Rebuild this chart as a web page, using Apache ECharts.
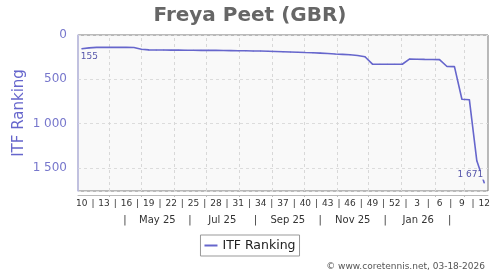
<!DOCTYPE html>
<html><head><meta charset="utf-8">
<script src="https://cdn.jsdelivr.net/npm/echarts@6/dist/echarts.min.js"></script>
<style>html,body{margin:0;padding:0;background:#fff}#c{width:500px;height:270px}</style>
</head><body><div id="c"></div>
<script>
// ---- data ----
const weekLabels = ['10','11','12','13','14','15','16','17','18','19','20','21','22','23','24','25','26','27','28','29','30','31','32','33','34','35','36','37','38','39','40','41','42','43','44','45','46','47','48','49','50','51','52','1','2','3','4','5','6','7','8','9','10','11','12'];
const ranks = [155,145,140,140,140,140,140,141,160,168,170,170,171,171,172,172,173,173,174,175,176,177,178,180,181,183,186,189,192,195,198,200,204,208,215,219,223,231,245,329,330,330,330,330,270,273,275,276,278,355,357,725,730,1420,1671];
const monthStarts = ['2025-04-01','2025-05-01','2025-06-01','2025-07-01','2025-08-01','2025-09-01','2025-10-01','2025-11-01','2025-12-01','2026-01-01','2026-02-01','2026-03-01','2026-04-01'];
const monthLabels = ['May 25','Jul 25','Sep 25','Nov 25','Jan 26'];
const yTicks = [0,500,1000,1500];
const firstWeekStart = '2025-03-03';
const lastWeekEnd = '2026-03-23';
const title = 'Freya Peet (GBR)';
const seriesName = 'ITF Ranking';
const credit = '\u00a9 www.coretennis.net, 03-18-2026';

// ---- helpers ----
const DAY = 86400000;
const t0 = Date.parse(firstWeekStart + 'T00:00:00Z');
const dayOf = s => (Date.parse(s + 'T00:00:00Z') - t0) / DAY;
const xMax = dayOf(lastWeekEnd);
const ptX = i => 3.5 + 7 * i;
const key = v => Math.round(v * 10);

const weekMap = new Map();
const weekVals = [];
for (let i = 0; i < weekLabels.length; i += 3) {
  weekVals.push(ptX(i)); weekMap.set(key(ptX(i)), weekLabels[i]);
  if (i + 3 < weekLabels.length) { const s = ptX(i) + 10.5; weekVals.push(s); weekMap.set(key(s), '|'); }
}
const mDays = monthStarts.map(dayOf);
const monthTicks = mDays.filter(d => d > 0 && d < xMax);
const monthMap = new Map();
const monthVals = [];
for (let m = 0; m < mDays.length - 1; m++) {
  const mid = (mDays[m] + mDays[m + 1]) / 2;
  if (m % 2 === 0) { monthVals.push(mid); monthMap.set(key(mid), '|'); }
  else { const lbl = monthLabels[(m - 1) / 2]; if (lbl) { monthVals.push(mid); monthMap.set(key(mid), lbl); } }
}

const seriesData = ranks.map((r, i) => {
  const item = { value: [ptX(i), r] };
  if (i === 0) item.label = { show: true, position: 'bottom', align: 'left', distance: 3, offset: [-1, 0] };
  if (i === ranks.length - 1) item.label = { show: true, position: 'top', align: 'right', distance: 3, backgroundColor: '#f9f9f9', padding: [0, 1, 0, 0] };
  return item;
});

const FONT = 'DejaVu Sans';
const lineColor = '#6666cc';

const chart = echarts.init(document.getElementById('c'), null, { renderer: 'canvas' });
chart.setOption({
  animation: false,
  textStyle: { fontFamily: FONT },
  title: [
    { text: title, left: 'center', top: 1, textStyle: { fontFamily: FONT, fontSize: 20, fontWeight: 'bold', color: '#666' } },
    { text: credit, right: 10, top: 257, textStyle: { fontFamily: FONT, fontSize: 9, fontWeight: 'normal', color: '#555' } }
  ],
  legend: {
    data: [{ name: seriesName, icon: 'rect', itemStyle: { color: lineColor } }],
    left: 'center', top: 235, itemWidth: 13, itemHeight: 2,
    borderColor: '#999', borderWidth: 1, padding: [4, 4, 4, 4], backgroundColor: '#fff', borderRadius: 0,
    textStyle: { fontFamily: FONT, fontSize: 12.5, color: '#222' }
  },
  grid: { left: 78, right: 12, top: 35, bottom: 79, show: true, borderColor: '#777', borderWidth: 1, backgroundColor: '#f9f9f9', containLabel: false },
  xAxis: [
    { type: 'value', min: 0, max: xMax, axisLine: { show: false }, axisTick: { show: false }, axisLabel: { show: false }, splitLine: { show: false } },
    { type: 'value', min: 0, max: xMax, position: 'bottom', offset: 0,
      axisLine: { show: false }, axisLabel: { show: false }, splitLine: { show: false },
      axisTick: { show: true, inside: true, length: 156, customValues: monthTicks, lineStyle: { color: '#d8d8d8', type: [3, 3] } } },
    { type: 'value', min: 0, max: xMax, position: 'bottom', offset: 4,
      axisLine: { show: true, lineStyle: { color: '#bbb', width: 1 } }, splitLine: { show: false },
      axisTick: { show: true, length: 2, customValues: monthTicks, lineStyle: { color: '#bbb' } },
      axisLabel: { show: true, customValues: weekVals, margin: 4, fontSize: 9, color: '#333', fontFamily: FONT,
        formatter: v => weekMap.get(key(v)) || '' } },
    { type: 'value', min: 0, max: xMax, position: 'bottom', offset: 4,
      axisLine: { show: false }, axisTick: { show: false }, splitLine: { show: false },
      axisLabel: { show: true, customValues: monthVals, margin: 20, fontSize: 10, color: '#333', fontFamily: FONT,
        formatter: v => monthMap.get(key(v)) || '' } }
  ],
  yAxis: {
    type: 'value', inverse: true, min: 0, max: 1760, interval: 500, offset: 5,
    name: seriesName, nameLocation: 'middle', nameRotate: 90, nameGap: 46, nameMoveOverlap: false,
    nameTextStyle: { fontFamily: FONT, fontSize: 15, color: lineColor },
    axisLine: { show: true, lineStyle: { color: '#c4c4ec', width: 1.5 } },
    axisTick: { show: false },
    axisLabel: { margin: 6, fontSize: 12, color: '#7777cc', fontFamily: FONT,
      customValues: yTicks,
      formatter: v => String(v).replace(/\B(?=(\d{3})+(?!\d))/g, ' ') },
    splitLine: { show: true, lineStyle: { color: '#dcdcdc', type: [3, 3] } }
  },
  series: [{
    name: seriesName, type: 'line', xAxisIndex: 0, data: seriesData,
    symbol: 'circle', symbolSize: 1, showSymbol: true,
    lineStyle: { color: lineColor, width: 1.6 }, itemStyle: { color: lineColor },
    label: { show: false, fontFamily: FONT, fontSize: 9, color: '#5555aa', formatter: p => String(p.value[1]).replace(/\B(?=(\d{3})+(?!\d))/g, ' ') },
    emphasis: { disabled: true }, z: 3
  }]
});
</script></body></html>
